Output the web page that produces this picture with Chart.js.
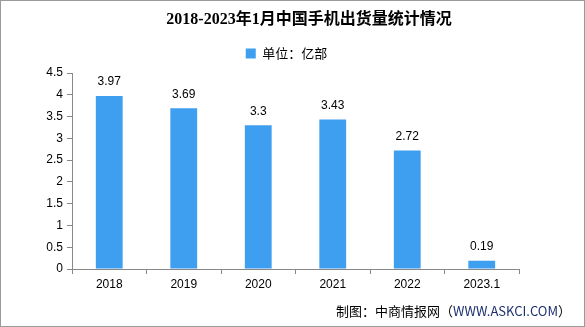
<!doctype html>
<html lang="zh">
<head>
  <meta charset="utf-8">
  <title>2018-2023年1月中国手机出货量统计情况</title>
  <style>
    html, body { margin: 0; padding: 0; background: #fff; }
    #wrap { width: 585px; height: 327px; position: relative; }
  </style>
</head>
<body>
  <div id="wrap"><canvas id="phoneChart" width="585" height="327"></canvas></div>

  <script src="https://cdn.jsdelivr.net/npm/chart.js"></script>
  <script>
    // Daten
    const jahre = ["2018", "2019", "2020", "2021", "2022", "2023.1"];
    const werte = [3.97, 3.69, 3.3, 3.43, 2.72, 0.19];
    const titel = "2018-2023年1月中国手机出货量统计情况";
    const einheit = "单位：亿部";
    const quelleTeile = ["制图：中商情报网（", "WWW.ASKCI.COM", "）"];

    const blau = "rgb(62, 158, 240)";
    const schrift = "'Liberation Sans', 'Noto Sans CJK SC', sans-serif";
    const cjk = "'Noto Sans CJK SC', sans-serif";

    // Rahmen, Titel und Quelle
    const rahmen = {
      id: "rahmen",
      beforeDraw(chart) {
        const ctx = chart.ctx;
        ctx.save();
        ctx.fillStyle = "#fff";
        ctx.fillRect(0, 0, chart.width, chart.height);
        ctx.strokeStyle = "#9a9a9a";
        ctx.lineWidth = 1;
        ctx.strokeRect(0.5, 0.5, chart.width - 1, chart.height - 1);

        // Titel
        ctx.fillStyle = "#000";
        ctx.font = "bold 16px 'Liberation Serif', 'Noto Sans CJK SC', serif";
        ctx.textAlign = "center";
        ctx.textBaseline = "middle";
        ctx.fillText(titel, 309, 20);

        // Quelle unten rechts
        ctx.font = "13px " + cjk;
        ctx.textAlign = "left";
        const farben = ["#000", "#1c2f6e", "#000"];
        const breiten = quelleTeile.map(t => ctx.measureText(t).width);
        let x = 571 - breiten.reduce((a, b) => a + b, 0);
        quelleTeile.forEach((t, i) => {
          ctx.fillStyle = farben[i];
          ctx.fillText(t, x, 311);
          x += breiten[i];
        });
        ctx.restore();
      }
    };

    // Werte ueber den Balken
    const beschriftung = {
      id: "beschriftung",
      afterDatasetsDraw(chart) {
        const ctx = chart.ctx;
        ctx.save();
        ctx.fillStyle = "#000";
        ctx.font = "12px " + schrift;
        ctx.textAlign = "center";
        ctx.textBaseline = "middle";
        chart.getDatasetMeta(0).data.forEach((bar, i) => {
          ctx.fillText(String(werte[i]), bar.x, bar.y - 14);
        });
        ctx.restore();
      }
    };

    new Chart(document.getElementById("phoneChart"), {
      type: "bar",
      data: {
        labels: jahre,
        datasets: [{
          label: einheit,
          data: werte,
          backgroundColor: blau,
          borderWidth: 0,
          barPercentage: 0.36,
          categoryPercentage: 1.0
        }]
      },
      options: {
        responsive: false,
        animation: false,
        devicePixelRatio: 1,
        layout: { padding: { left: 30, right: 42, top: 40, bottom: 28 } },
        plugins: {
          title: { display: false },
          legend: {
            display: true,
            position: "top",
            labels: {
              color: "#000",
              font: { family: cjk, size: 13 },
              boxWidth: 10,
              boxHeight: 10,
              padding: 7
            }
          },
          tooltip: { enabled: false }
        },
        scales: {
          x: {
            grid: { offset: true, drawOnChartArea: false, tickLength: 5, color: "#888" },
            border: { color: "#888" },
            ticks: { color: "#000", font: { family: schrift, size: 12 }, padding: 3, maxRotation: 0 },
            afterFit(scale) { scale.height = 30; }
          },
          // kleiner Abstand oben
          oben: {
            type: "category",
            position: "top",
            grid: { display: false },
            border: { display: false },
            ticks: { display: false },
            afterFit(scale) { scale.height = 3; }
          },
          y: {
            min: 0,
            max: 4.5,
            grid: { drawOnChartArea: false, tickLength: 5, color: "#888" },
            border: { color: "#888" },
            ticks: {
              stepSize: 0.5,
              color: "#000",
              font: { family: schrift, size: 12 },
              padding: 4,
              callback: v => String(v)
            },
            afterFit(scale) { scale.width = 42; }
          },
          // leerer Platz rechts, damit die Legende mittig sitzt
          rechts: {
            position: "right",
            min: 0,
            max: 1,
            grid: { display: false },
            border: { display: false },
            ticks: { display: false },
            afterFit(scale) { scale.width = 24; }
          }
        }
      },
      plugins: [rahmen, beschriftung]
    });
  </script>
</body>
</html>
